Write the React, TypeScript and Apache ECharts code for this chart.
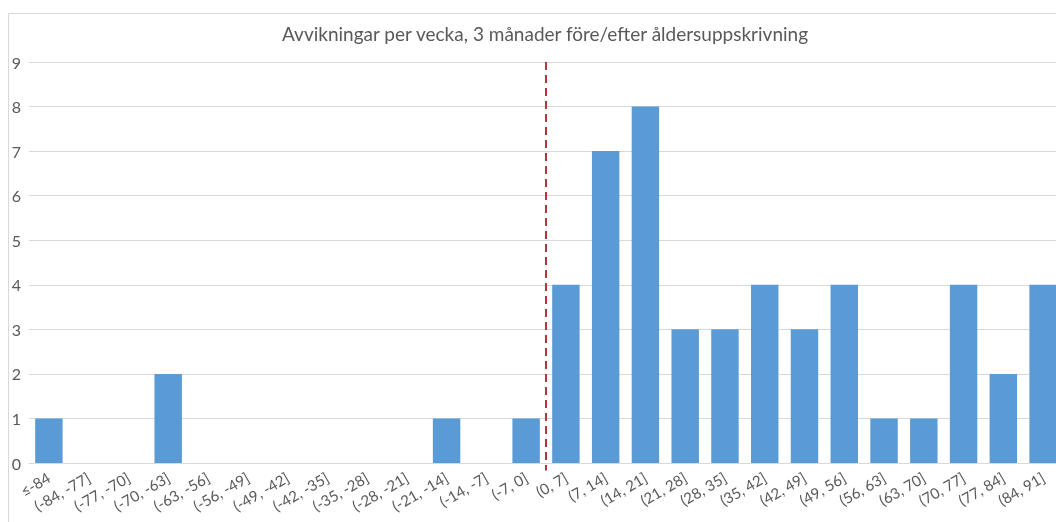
import React, { useEffect, useRef } from "react";
import * as echarts from "echarts";

const categories = [
  "≤-84", "(-84, -77]", "(-77, -70]", "(-70, -63]", "(-63, -56]", "(-56, -49]",
  "(-49, -42]", "(-42, -35]", "(-35, -28]", "(-28, -21]", "(-21, -14]", "(-14, -7]",
  "(-7, 0]", "(0, 7]", "(7, 14]", "(14, 21]", "(21, 28]", "(28, 35]", "(35, 42]",
  "(42, 49]", "(49, 56]", "(56, 63]", "(63, 70]", "(70, 77]", "(77, 84]", "(84, 91]",
];
const values = [1, 0, 0, 2, 0, 0, 0, 0, 0, 0, 1, 0, 1, 4, 7, 8, 3, 3, 4, 3, 4, 1, 1, 4, 2, 4];
const yTicks = { min: 0, max: 9, interval: 1 };
// divider between before and after (boundary index in category units)
const dividerAt = 13;
const dividerLine = [[dividerAt, 9], [dividerAt, -0.17]];
const titleText = "Avvikningar per vecka, 3 månader före/efter åldersuppskrivning";

export default function App() {
  const ref = useRef<HTMLDivElement>(null);
  useEffect(() => {
    if (!ref.current) return;
    const chart = echarts.init(ref.current, undefined, { renderer: "svg" });
    const font = "Lato, 'Open Sans', sans-serif";
    chart.setOption({
      animation: false,
      textStyle: { fontFamily: font },
      title: {
        text: titleText,
        left: 540,
        textAlign: "center",
        top: 19,
        textStyle: { fontSize: 19, fontWeight: "normal", color: "#595959", fontFamily: font },
      },
      graphic: [
        {
          type: "rect",
          shape: { x: 8.5, y: 13.5, width: 1200, height: 700 },
          style: { fill: "none", stroke: "#d9d9d9", lineWidth: 1 },
          silent: true,
          z: -10,
        },
      ],
      grid: { left: 29, top: 62, width: 1034, height: 401, containLabel: false },
      xAxis: [
        {
          type: "category",
          data: categories,
          axisLine: { lineStyle: { color: "#d9d9d9", width: 1 } },
          axisTick: { show: false },
          axisLabel: {
            rotate: 30,
            interval: 0,
            fontSize: 15,
            color: "#595959",
            margin: 13,
            fontFamily: font,
          },
        },
        { type: "value", min: 0, max: 26, show: false },
      ],
      yAxis: {
        type: "value",
        min: yTicks.min,
        max: yTicks.max,
        interval: yTicks.interval,
        axisLine: { show: false },
        axisTick: { show: false },
        splitLine: { lineStyle: { color: "#d9d9d9", width: 1 } },
        axisLabel: { fontSize: 16, color: "#595959", margin: 8, fontFamily: font },
      },
      series: [
        {
          type: "bar",
          data: values,
          barWidth: "69%",
          itemStyle: { color: "#5B9BD5" },
        },
        {
          type: "line",
          xAxisIndex: 1,
          data: dividerLine,
          symbol: "none",
          clip: false,
          lineStyle: { color: "#B8333B", width: 2, type: [8, 5] },
          z: 5,
        },
      ],
    });
    return () => chart.dispose();
  }, []);
  return (
    <div style={{ position: "fixed", left: 0, top: 0, width: 1056, height: 522, overflow: "hidden" }}>
      <div ref={ref} style={{ width: 1090, height: 522 }} />
    </div>
  );
}
